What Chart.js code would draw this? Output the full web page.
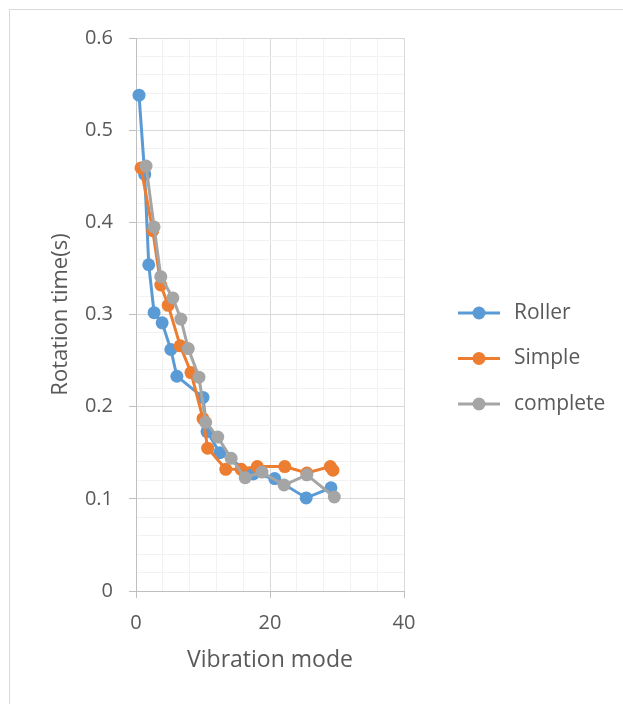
<!DOCTYPE html>
<html>
<head>
<meta charset="utf-8">
<title>Rotation time vs vibration mode</title>
<script src="https://cdn.jsdelivr.net/npm/chart.js@4.4.1/dist/chart.umd.min.js"></script>
<style>
    html, body { margin: 0; padding: 0; background: #fff; }
    #wrap { position: relative; width: 623px; height: 704px; overflow: hidden; }
    #frame {
        position: absolute; left: 9px; top: 9px; width: 700px; height: 800px;
        border-left: 1px solid #d9d9d9; border-top: 1px solid #d9d9d9;
    }
    #chart { position: absolute; left: 0; top: 0; }
</style>
</head>
<body>
<div id="wrap">
    <div id="frame"></div>
    <canvas id="chart" width="623" height="704"></canvas>
</div>
<script>
// Series (x = vibration mode, y = rotation time in s)
const seriesNames = ['Roller', 'Simple', 'complete'];

const rollerX = [0.45, 1.3, 1.9, 2.7, 3.9, 5.2, 6.1, 10.0, 10.6, 12.5, 17.5, 20.7, 25.4, 29.1];
const rollerY = [0.538, 0.452, 0.354, 0.302, 0.291, 0.262, 0.233, 0.210, 0.173, 0.150, 0.127, 0.122, 0.101, 0.112];

const simpleX = [0.75, 2.5, 3.7, 4.8, 6.6, 8.2, 10.0, 10.7, 13.4, 15.7, 18.1, 22.2, 25.5, 29.0, 29.4];
const simpleY = [0.459, 0.391, 0.332, 0.310, 0.266, 0.237, 0.187, 0.155, 0.132, 0.132, 0.135, 0.135, 0.128, 0.135, 0.131];

const completeX = [1.5, 2.7, 3.7, 5.5, 6.7, 7.8, 9.4, 10.4, 12.2, 14.2, 16.3, 18.8, 22.1, 25.5, 29.6];
const completeY = [0.461, 0.395, 0.341, 0.318, 0.295, 0.263, 0.232, 0.183, 0.167, 0.144, 0.123, 0.129, 0.115, 0.126, 0.102];

const xTickLabels = [0, 20, 40];
const yTickLabels = ['0', '0.1', '0.2', '0.3', '0.4', '0.5', '0.6'];

const colors = ['#5b9bd5', '#ed7d31', '#a5a5a5'];
const FONT = "'Open Sans', 'DejaVu Sans', sans-serif";
const TEXT = '#595959';

function toPoints(xs, ys) {
    return xs.map((x, i) => ({ x: x, y: ys[i] }));
}

function isMajorY(v) {
    return Math.round(v * 100) % 10 === 0;
}

function makeDataset(i, xs, ys) {
    return {
        label: seriesNames[i],
        data: toPoints(xs, ys),
        showLine: true,
        borderColor: colors[i],
        backgroundColor: colors[i],
        borderWidth: 3,
        pointRadius: 6.5,
        pointHoverRadius: 6.5,
        pointBorderWidth: 0,
        order: 2 - i,
        clip: false
    };
}

// Excel-style legend: short line with a marker in the middle
const sideLegend = {
    id: 'sideLegend',
    afterDraw(chart) {
        const ctx = chart.ctx;
        ctx.save();
        chart.data.datasets.forEach((ds, i) => {
            const y = 313 + i * 45.5;
            ctx.strokeStyle = ds.borderColor;
            ctx.lineWidth = 3;
            ctx.beginPath();
            ctx.moveTo(458, y);
            ctx.lineTo(500, y);
            ctx.stroke();
            ctx.fillStyle = ds.backgroundColor;
            ctx.beginPath();
            ctx.arc(479, y, 6.5, 0, Math.PI * 2);
            ctx.fill();
            ctx.fillStyle = TEXT;
            ctx.font = `21px ${FONT}`;
            ctx.textBaseline = 'middle';
            ctx.textAlign = 'left';
            ctx.fillText(ds.label, 514, y);
        });
        ctx.restore();
    }
};

const ctx = document.getElementById('chart').getContext('2d');
const chart = new Chart(ctx, {
    type: 'scatter',
    data: {
        datasets: [
            makeDataset(0, rollerX, rollerY),
            makeDataset(1, simpleX, simpleY),
            makeDataset(2, completeX, completeY)
        ]
    },
    options: {
        responsive: false,
        animation: false,
        layout: {
            padding: { left: 0, top: 38, right: 219, bottom: 0 }
        },
        plugins: {
            legend: { display: false },
            tooltip: { enabled: false }
        },
        scales: {
            x: {
                type: 'linear',
                position: 'bottom',
                min: 0,
                max: 40,
                afterFit: (scale) => { scale.height = 113; },
                ticks: {
                    stepSize: 4,
                    autoSkip: false,
                    maxRotation: 0,
                    padding: 13,
                    color: TEXT,
                    font: { family: FONT, size: 20 },
                    callback: (v) => xTickLabels.includes(v) ? String(v) : ''
                },
                grid: {
                    color: (c) => xTickLabels.includes(c.tick.value) ? '#d9d9d9' : '#f2f2f2',
                    tickColor: (c) => xTickLabels.includes(c.tick.value) ? '#bfbfbf' : 'rgba(0,0,0,0)',
                    tickLength: 7,
                    lineWidth: 1
                },
                border: { color: '#bfbfbf', width: 1 },
                title: {
                    display: true,
                    text: 'Vibration mode',
                    color: TEXT,
                    font: { family: FONT, size: 23 },
                    padding: { top: 0, bottom: 30 }
                }
            },
            y: {
                type: 'linear',
                min: 0,
                max: 0.6,
                afterFit: (scale) => { scale.width = 136; },
                ticks: {
                    stepSize: 0.02,
                    autoSkip: false,
                    padding: 16,
                    color: TEXT,
                    font: { family: FONT, size: 20 },
                    callback: (v) => isMajorY(v) ? yTickLabels[Math.round(v * 10)] : ''
                },
                grid: {
                    color: (c) => isMajorY(c.tick.value) ? '#d9d9d9' : '#f2f2f2',
                    tickColor: (c) => isMajorY(c.tick.value) ? '#bfbfbf' : 'rgba(0,0,0,0)',
                    tickLength: 7,
                    lineWidth: 1
                },
                border: { color: '#bfbfbf', width: 1 },
                title: {
                    display: true,
                    text: 'Rotation time(s)',
                    color: TEXT,
                    font: { family: FONT, size: 22 },
                    padding: { top: 48, bottom: 0 }
                }
            }
        }
    },
    plugins: [sideLegend]
});
</script>
</body>
</html>
